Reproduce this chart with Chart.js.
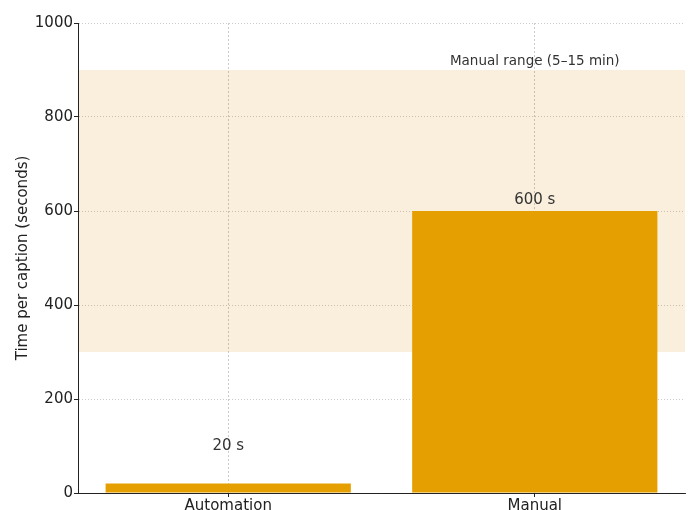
<!DOCTYPE html>
<html>
<head>
<meta charset="utf-8">
<script src="https://cdn.jsdelivr.net/npm/chart.js@4/dist/chart.umd.min.js"></script>
<style>
  html, body { margin: 0; padding: 0; background: #fff; }
  #wrap { width: 693px; height: 510px; }
</style>
</head>
<body>
<div id="wrap"><canvas id="chart" width="693" height="510"></canvas></div>
<script>
// data
const categories = ['Automation', 'Manual'];
const seconds = [20, 600];
const barLabels = ['20 s', '600 s'];
const manualRange = [300, 900];
const rangeLabel = 'Manual range (5\u201315 min)';
const yTicks = [0, 200, 400, 600, 800, 1000];

const FONT = "'DejaVu Sans', sans-serif";
const BAR_COLOR = '#E69F00';
const BAND_COLOR = '#FAEFDC';

// shaded band behind grid + bars
const bandPlugin = {
    id: 'band',
    beforeDraw(chart) {
        const { ctx, chartArea, scales } = chart;
        const yTop = scales.y.getPixelForValue(manualRange[1]);
        const yBot = scales.y.getPixelForValue(manualRange[0]);
        ctx.save();
        ctx.fillStyle = BAND_COLOR;
        ctx.fillRect(chartArea.left, yTop, chartArea.right - chartArea.left, yBot - yTop);
        ctx.restore();
    }
};

// value labels above bars and band caption
const textPlugin = {
    id: 'texts',
    afterDatasetsDraw(chart) {
        const { ctx, scales } = chart;
        ctx.save();
        ctx.fillStyle = '#333333';
        ctx.textAlign = 'center';
        ctx.textBaseline = 'alphabetic';
        ctx.font = '15px ' + FONT;
        seconds.forEach((v, i) => {
            const x = scales.x.getPixelForValue(i);
            const y = scales.y.getPixelForValue(Math.max(v + 15, 92));
            ctx.fillText(barLabels[i], x, y);
        });
        ctx.font = '13.5px ' + FONT;
        ctx.textBaseline = 'middle';
        const cx = scales.x.getPixelForValue(1);
        const cy = scales.y.getPixelForValue(manualRange[1]) - 9;
        ctx.fillText(rangeLabel, cx, cy);
        ctx.restore();
    }
};

const gridStyle = {
    color: 'rgba(0,0,0,0.25)',
    lineWidth: 0.8,
    offset: false,
    tickColor: '#222',
    tickBorderDash: [],
    tickLength: 4,
    tickWidth: 1
};

new Chart(document.getElementById('chart').getContext('2d'), {
    type: 'bar',
    data: {
        datasets: [{
            data: seconds.map((v, i) => ({ x: i, y: v })),
            backgroundColor: BAR_COLOR,
            borderWidth: 0,
            categoryPercentage: 1.0,
            barPercentage: 0.8
        }]
    },
    options: {
        responsive: false,
        animation: false,
        layout: { padding: { top: 23, right: 8, left: 0, bottom: 0 } },
        plugins: {
            legend: { display: false },
            tooltip: { enabled: false }
        },
        scales: {
            x: {
                type: 'linear',
                offset: false,
                min: -0.49,
                max: 1.49,
                afterBuildTicks(scale) { scale.ticks = categories.map((c, i) => ({ value: i })); },
                grid: gridStyle,
                border: { color: '#222', width: 1, dash: [2, 2] },
                ticks: {
                    color: '#222',
                    font: { family: FONT, size: 15 },
                    padding: 0,
                    callback: v => categories[v]
                },
                afterFit(scale) { scale.height = 17; }
            },
            y: {
                min: 0,
                max: 1000,
                afterBuildTicks(scale) { scale.ticks = yTicks.map(v => ({ value: v })); },
                grid: gridStyle,
                border: { color: '#222', width: 1, dash: [1, 2] },
                ticks: {
                    color: '#222',
                    font: { family: FONT, size: 15 },
                    padding: 1,
                    callback: v => String(v)
                },
                title: {
                    display: true,
                    text: 'Time per caption (seconds)',
                    color: '#222',
                    font: { family: FONT, size: 15 },
                    padding: { top: 14, bottom: 4 }
                },
                afterFit(scale) { scale.width = 78; }
            }
        }
    },
    plugins: [bandPlugin, textPlugin]
});
</script>
</body>
</html>
